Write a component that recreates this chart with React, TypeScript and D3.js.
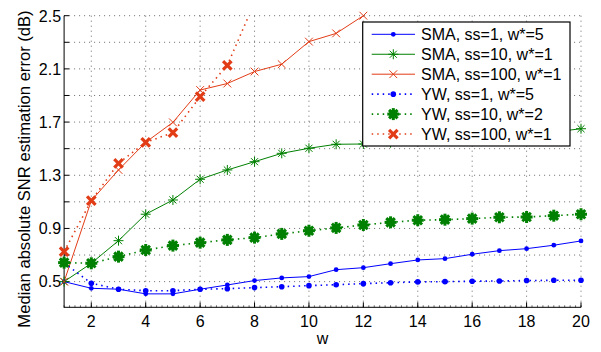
import * as d3 from 'd3';
import { useEffect, useRef } from 'react';

const wValues = [1, 2, 3, 4, 5, 6, 7, 8, 9, 10, 11, 12, 13, 14, 15, 16, 17, 18, 19, 20];

const smaSs1 = [0.5, 0.45, 0.443, 0.408, 0.408, 0.443, 0.475, 0.508, 0.528, 0.538, 0.59, 0.605, 0.635, 0.663, 0.673, 0.706, 0.733, 0.748, 0.774, 0.806];
const smaSs10 = [0.5, 0.638, 0.808, 1.007, 1.114, 1.27, 1.34, 1.402, 1.465, 1.503, 1.533, 1.535, 1.545, 1.555, 1.565, 1.575, 1.585, 1.6, 1.625, 1.65];
const smaSs100 = [0.5, 1.109, 1.34, 1.548, 1.698, 1.941, 1.99, 2.08, 2.135, 2.305, 2.367, 2.5];
const ywSs1 = [0.64, 0.488, 0.443, 0.432, 0.432, 0.443, 0.447, 0.455, 0.462, 0.47, 0.477, 0.485, 0.492, 0.498, 0.5, 0.503, 0.505, 0.508, 0.51, 0.51];
const ywSs10 = [0.643, 0.638, 0.688, 0.738, 0.771, 0.793, 0.814, 0.831, 0.859, 0.883, 0.904, 0.926, 0.946, 0.962, 0.966, 0.974, 0.984, 0.986, 0.996, 1.007];
const ywSs100 = [0.726, 1.109, 1.39, 1.548, 1.62, 1.891, 2.127, 2.6];

const seriesLabels = ['SMA, ss=1, w*=5', 'SMA, ss=10, w*=1', 'SMA, ss=100, w*=1', 'YW, ss=1, w*=5', 'YW, ss=10, w*=2', 'YW, ss=100, w*=1'];

const yGridTicks = [0.5, 0.7, 0.9, 1.1, 1.3, 1.5, 1.7, 1.9, 2.1, 2.3, 2.5];
const yTickLabels = [0.5, 0.9, 1.3, 1.7, 2.1, 2.5];
const xTickLabels = [2, 4, 6, 8, 10, 12, 14, 16, 18, 20];

const blue = '#0000ff';
const green = '#008000';
const red = '#e23c16';
const font = '"Liberation Sans", Arial, Helvetica, sans-serif';

const width = 601;
const height = 352;
const margin = { top: 15.7, right: 20, bottom: 44.7, left: 64.1 };

type MarkerKind = 'dot' | 'star' | 'cross' | 'bigDot' | 'bigStar' | 'bigCross';

const drawMarker = (g, kind: MarkerKind, cx: number, cy: number, color: string) => {
  const m = g.append('g').attr('transform', `translate(${cx},${cy})`);
  const spokes = (half: number, sw: number, angles: number[]) => {
    angles.forEach((a) => {
      const r = (a * Math.PI) / 180;
      m.append('line')
        .attr('x1', -half * Math.cos(r))
        .attr('y1', -half * Math.sin(r))
        .attr('x2', half * Math.cos(r))
        .attr('y2', half * Math.sin(r))
        .attr('stroke', color)
        .attr('stroke-width', sw);
    });
  };
  if (kind === 'dot') m.append('circle').attr('r', 2.4).attr('fill', color);
  if (kind === 'bigDot') m.append('circle').attr('r', 2.8).attr('fill', color);
  if (kind === 'star') spokes(5, 1, [0, 45, 90, 135]);
  if (kind === 'cross') spokes(5.5, 1, [45, 135]);
  if (kind === 'bigStar') {
    m.append('circle').attr('r', 4.3).attr('fill', color);
    spokes(6, 3, [0, 45, 90, 135]);
  }
  if (kind === 'bigCross') spokes(6, 3.2, [45, 135]);
};

const App = () => {
  const svgRef = useRef(null);

  useEffect(() => {
    const svg = d3.select(svgRef.current);
    svg.selectAll('*').remove();

    const innerWidth = width - margin.left - margin.right;
    const innerHeight = height - margin.top - margin.bottom;

    const x = d3.scaleLinear().domain([1, 20]).range([margin.left, margin.left + innerWidth]);
    const y = d3.scaleLinear().domain([0.307, 2.5]).range([margin.top + innerHeight, margin.top]);

    const series = [
      { values: smaSs1, color: blue, dotted: false, marker: 'dot' as MarkerKind },
      { values: smaSs10, color: green, dotted: false, marker: 'star' as MarkerKind },
      { values: smaSs100, color: red, dotted: false, marker: 'cross' as MarkerKind },
      { values: ywSs1, color: blue, dotted: true, marker: 'bigDot' as MarkerKind },
      { values: ywSs10, color: green, dotted: true, marker: 'bigStar' as MarkerKind },
      { values: ywSs100, color: red, dotted: true, marker: 'bigCross' as MarkerKind },
    ];

    svg
      .append('defs')
      .append('clipPath')
      .attr('id', 'plot-clip')
      .append('rect')
      .attr('x', margin.left)
      .attr('y', margin.top)
      .attr('width', innerWidth)
      .attr('height', innerHeight);

    // grid
    const grid = svg.append('g');
    grid
      .selectAll('line.h')
      .data(yGridTicks)
      .join('line')
      .attr('x1', margin.left)
      .attr('x2', margin.left + innerWidth)
      .attr('y1', (d) => y(d))
      .attr('y2', (d) => y(d))
      .attr('stroke', '#444')
      .attr('stroke-width', 0.8)
      .attr('stroke-dasharray', '1,4');
    grid
      .selectAll('line.v')
      .data(xTickLabels)
      .join((enter) => enter.append('line'))
      .attr('x1', (d) => x(d))
      .attr('x2', (d) => x(d))
      .attr('y1', margin.top)
      .attr('y2', margin.top + innerHeight)
      .attr('stroke', '#444')
      .attr('stroke-width', 0.8)
      .attr('stroke-dasharray', '1,4');

    // axes lines and ticks
    const axes = svg.append('g').attr('stroke', '#000').attr('stroke-width', 1);
    axes.append('line').attr('x1', margin.left).attr('x2', margin.left).attr('y1', margin.top).attr('y2', margin.top + innerHeight + 0.5);
    axes.append('line').attr('x1', margin.left).attr('x2', margin.left + innerWidth).attr('y1', margin.top + innerHeight).attr('y2', margin.top + innerHeight);

    const minorX = d3.range(1, 20.001, 0.2);
    axes
      .selectAll('line.minor')
      .data(minorX)
      .join((enter) => enter.append('line'))
      .attr('x1', (d) => x(d))
      .attr('x2', (d) => x(d))
      .attr('y1', margin.top + innerHeight)
      .attr('y2', margin.top + innerHeight - 2)
      .attr('stroke-width', 0.6);
    xTickLabels.forEach((t) => {
      axes.append('line').attr('x1', x(t)).attr('x2', x(t)).attr('y1', margin.top + innerHeight).attr('y2', margin.top + innerHeight - 5);
    });
    yGridTicks.forEach((t) => {
      axes.append('line').attr('x1', margin.left).attr('x2', margin.left + 5).attr('y1', y(t)).attr('y2', y(t));
    });

    svg
      .append('g')
      .selectAll('text')
      .data(xTickLabels)
      .join('text')
      .attr('x', (d) => x(d))
      .attr('y', margin.top + innerHeight + 19.5)
      .attr('text-anchor', 'middle')
      .style('font-family', font)
      .style('font-size', '16px')
      .text((d) => d);

    svg
      .append('g')
      .selectAll('text')
      .data(yTickLabels)
      .join('text')
      .attr('x', margin.left - 3)
      .attr('y', (d) => y(d) + 5.8)
      .attr('text-anchor', 'end')
      .style('font-family', font)
      .style('font-size', '16px')
      .text((d) => d3.format('.1f')(d));

    svg
      .append('text')
      .attr('x', margin.left + innerWidth / 2)
      .attr('y', 344)
      .attr('text-anchor', 'middle')
      .style('font-family', font)
      .style('font-size', '16px')
      .text('w');

    svg
      .append('text')
      .attr('transform', `translate(30,${169}) rotate(-90)`)
      .attr('text-anchor', 'middle')
      .style('font-family', font)
      .style('font-size', '16.6px')
      .text('Median absolute SNR estimation error (dB)');

    // lines
    const linesG = svg.append('g').attr('clip-path', 'url(#plot-clip)');
    series.forEach((s) => {
      const line = d3
        .line<number>()
        .x((_, i) => x(wValues[i]))
        .y((v) => y(v));
      linesG
        .append('path')
        .datum(s.values)
        .attr('fill', 'none')
        .attr('stroke', s.color)
        .attr('stroke-width', s.dotted ? 1.6 : 1)
        .attr('stroke-dasharray', s.dotted ? '1.5,4' : null)
        .attr('d', line);
    });

    // markers
    const markG = svg.append('g');
    series.forEach((s) => {
      s.values.forEach((v, i) => {
        if (v > 2.5) return;
        drawMarker(markG, s.marker, x(wValues[i]), y(v), s.color);
      });
    });

    // legend
    const legend = svg.append('g');
    legend
      .append('rect')
      .attr('x', 362.7)
      .attr('y', 22)
      .attr('width', 207.3)
      .attr('height', 124)
      .attr('fill', '#fff')
      .attr('stroke', '#000')
      .attr('stroke-width', 1.2);
    series.forEach((s, i) => {
      const ly = 34.3 + i * 19.95;
      legend
        .append('line')
        .attr('x1', 371.7)
        .attr('x2', 415)
        .attr('y1', ly)
        .attr('y2', ly)
        .attr('stroke', s.color)
        .attr('stroke-width', s.dotted ? 1.6 : 1)
        .attr('stroke-dasharray', s.dotted ? '1.5,4' : null);
      drawMarker(legend, s.marker, 393.3, ly, s.color);
      legend
        .append('text')
        .attr('x', 421)
        .attr('y', ly + 5.8)
        .style('font-family', font)
        .style('font-size', '16px')
        .text(seriesLabels[i]);
    });
  }, []);

  return (
    <svg
      ref={svgRef}
      width={width}
      height={height}
      style={{ position: 'fixed', left: 0, top: 0, background: '#fff' }}
    />
  );
};

export default App;
